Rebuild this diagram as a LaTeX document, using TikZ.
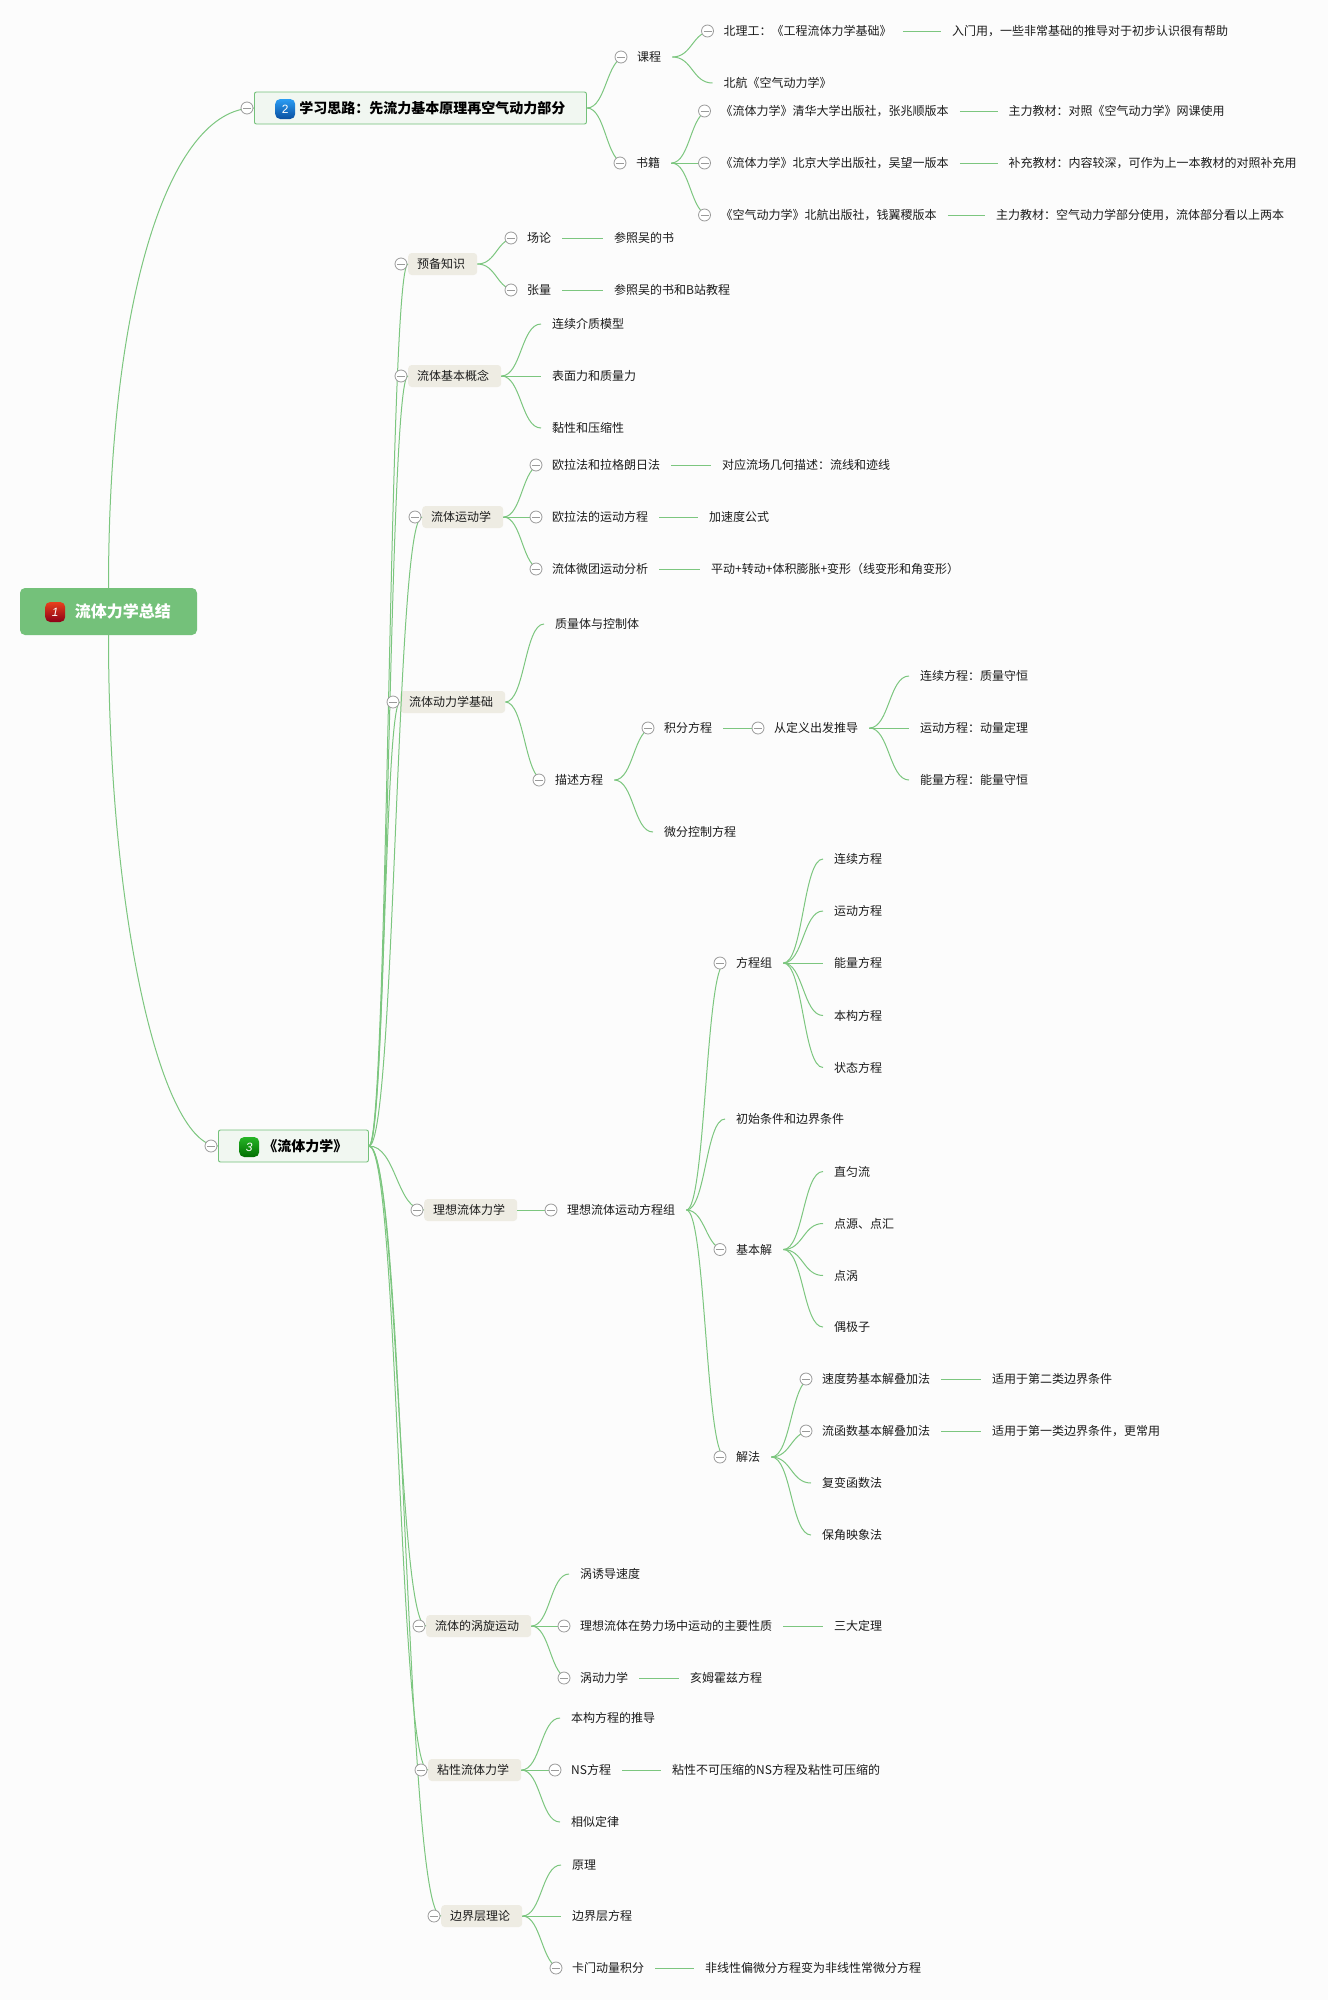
\documentclass[tikz,border=0pt]{standalone}
\usepackage{fontspec}
\setmainfont{Noto Sans CJK SC}
\newfontfamily\iconfont{Liberation Sans}
\usepackage{xcolor}
\usetikzlibrary{calc}
\definecolor{pagebg}{HTML}{FCFCFC}
\definecolor{linegreen}{HTML}{7CC67F}
\definecolor{rootgreen}{HTML}{74C17A}
\definecolor{mainfill}{HTML}{F1F7F1}
\definecolor{secfill}{HTML}{EEECE3}
\definecolor{foldgray}{HTML}{9A9A9A}
\definecolor{ink}{HTML}{1C1C1C}
\definecolor{redtop}{HTML}{E8401C}
\definecolor{redmid}{HTML}{E81010}
\definecolor{redlow}{HTML}{8C0018}
\definecolor{bluetop}{HTML}{2A9DF4}
\definecolor{bluemid}{HTML}{0A6FE8}
\definecolor{bluelow}{HTML}{0A4FA0}
\definecolor{greentop}{HTML}{26B526}
\definecolor{greenmid}{HTML}{009F00}
\definecolor{greenlow}{HTML}{006E00}
\tikzset{
  link/.style={draw=linegreen, line width=1pt},
  topic/.style={anchor=west, inner xsep=11pt, inner ysep=0pt, text=ink, text height=10.5pt, text depth=1.5pt,
    font=\fontsize{12}{14}\selectfont},
  secbox/.style={topic, fill=secfill, rounded corners=3.5pt, inner xsep=9pt, inner ysep=5pt,
    execute at end node={\hspace*{3pt}}},
  mainbox/.style={anchor=west, draw=rootgreen, fill=mainfill, rounded corners=2pt, line width=0.9pt, inner xsep=21pt,
    minimum height=32pt, text=black, font=\fontsize{14}{16}\selectfont\bfseries,
    execute at begin node={\hspace*{24pt}}},
  rootbox/.style={fill=rootgreen, rounded corners=5pt, inner xsep=25.5pt, minimum height=47pt, minimum width=177pt,
    text=white, font=\fontsize{16}{20}\selectfont\bfseries, execute at begin node={\hspace*{28.5pt}}},
  icon/.style={anchor=west, rounded corners=5pt, minimum size=20pt, inner sep=0pt, text=white,
    font=\iconfont\fontsize{12}{12}\selectfont},
  fold/.style={circle, draw=foldgray, fill=white, line width=0.8pt, minimum size=12pt, inner sep=0pt,
    path picture={\draw[foldgray, line width=0.8pt] ([xshift=2pt]path picture bounding box.west) -- ([xshift=-2pt]path picture bounding box.east);}},
}
\newcommand{\branch}[2]{%
  \path (#1.east) -- coordinate (m) (#2.west);
  \draw[link] (#1.east) .. controls (m |- #1.east) and (m |- #2.west) .. (#2.west);}
\begin{document}
\begin{tikzpicture}[x=1pt,y=-1pt]
  \path[use as bounding box, fill=pagebg] (0,0) rectangle (1328,2000);

  \node[rootbox] (root) at (108.5,611.5) {流体力学总结};
  \node[mainbox] (learn) at (254,108) {学习思路：先流力基本原理再空气动力部分};
  \node[mainbox] (fluid) at (218,1146) {《流体力学》};

  \node[icon, top color=redtop, middle color=redmid, bottom color=redlow] (iconone) at (45,612) {\itshape 1};
  \node[icon, top color=bluetop, middle color=bluemid, bottom color=bluelow] (icontwo) at (275,109) {2};
  \node[icon, top color=greentop, middle color=greenmid, bottom color=greenlow] (iconthree) at (239,1147) {\itshape 3};

  \node[topic] (course) at (626,57) {课程};
  \node[topic] (books) at (625,163) {书籍};
  \node[topic] (bit) at (712.5,31) {北理工：《工程流体力学基础》};
  \node[topic] (bitnote) at (941,31) {入门用，一些非常基础的推导对于初步认识很有帮助};
  \node[topic] (buaa) at (712.5,83) {北航《空气动力学》};
  \node[topic] (thu) at (709.5,111) {《流体力学》清华大学出版社，张兆顺版本};
  \node[topic] (thunote) at (997.5,111) {主力教材：对照《空气动力学》网课使用};
  \node[topic] (pku) at (709.5,163) {《流体力学》北京大学出版社，吴望一版本};
  \node[topic] (pkunote) at (997.5,163) {补充教材：内容较深，可作为上一本教材的对照补充用};
  \node[topic] (aero) at (709.5,215) {《空气动力学》北航出版社，钱翼稷版本};
  \node[topic] (aeronote) at (985,215) {主力教材：空气动力学部分使用，流体部分看以上两本};

  \node[secbox] (pre) at (408,264) {预备知识};
  \node[topic] (field) at (516,238) {场论};
  \node[topic] (fieldnote) at (603,238) {参照吴的书};
  \node[topic] (tensor) at (516,290) {张量};
  \node[topic] (tensornote) at (603,290) {参照吴的书和B站教程};

  \node[secbox] (basics) at (408,376) {流体基本概念};
  \node[topic] (medium) at (541,324) {连续介质模型};
  \node[topic] (force) at (541,376) {表面力和质量力};
  \node[topic] (visc) at (541,428) {黏性和压缩性};

  \node[secbox] (kinem) at (422,517) {流体运动学};
  \node[topic] (euler) at (541,465) {欧拉法和拉格朗日法};
  \node[topic] (eulernote) at (711,465) {对应流场几何描述：流线和迹线};
  \node[topic] (eulereq) at (541,517) {欧拉法的运动方程};
  \node[topic] (eulereqnote) at (698,517) {加速度公式};
  \node[topic] (micro) at (541,569) {流体微团运动分析};
  \node[topic] (micronote) at (700,569) {平动+转动+体积膨胀+变形（线变形和角变形）};

  \node[secbox] (dyn) at (400,702) {流体动力学基础};
  \node[topic] (ctrl) at (544,624) {质量体与控制体};
  \node[topic] (eqs) at (544,780) {描述方程};
  \node[topic] (integ) at (653,728) {积分方程};
  \node[topic] (diffeq) at (653,832) {微分控制方程};
  \node[topic] (defn) at (763,728) {从定义出发推导};
  \node[topic] (mass) at (909,676) {连续方程：质量守恒};
  \node[topic] (momentum) at (909,728) {运动方程：动量定理};
  \node[topic] (energy) at (909,780) {能量方程：能量守恒};

  \node[secbox] (ideal) at (424,1210) {理想流体力学};
  \node[topic] (idealeq) at (556,1210) {理想流体运动方程组};
  \node[topic] (system) at (725,963) {方程组};
  \node[topic] (syscont) at (823,859) {连续方程};
  \node[topic] (sysmove) at (823,911) {运动方程};
  \node[topic] (sysener) at (823,963) {能量方程};
  \node[topic] (sysconst) at (823,1015.5) {本构方程};
  \node[topic] (sysstate) at (823,1067.5) {状态方程};
  \node[topic] (initial) at (725,1119) {初始条件和边界条件};
  \node[topic] (basicsol) at (725,1249.5) {基本解};
  \node[topic] (uniform) at (823,1171.5) {直匀流};
  \node[topic] (source) at (823,1223.5) {点源、点汇};
  \node[topic] (pointvortex) at (823,1275.5) {点涡};
  \node[topic] (dipole) at (823,1327) {偶极子};
  \node[topic] (solve) at (725,1457) {解法};
  \node[topic] (potential) at (811,1379) {速度势基本解叠加法};
  \node[topic] (potnote) at (981,1379) {适用于第二类边界条件};
  \node[topic] (stream) at (811,1431) {流函数基本解叠加法};
  \node[topic] (streamnote) at (981,1431) {适用于第一类边界条件，更常用};
  \node[topic] (complex) at (811,1483) {复变函数法};
  \node[topic] (conformal) at (811,1535) {保角映象法};

  \node[secbox] (vortex) at (426,1626) {流体的涡旋运动};
  \node[topic] (induced) at (569,1574) {涡诱导速度};
  \node[topic] (nature) at (569,1626) {理想流体在势力场中运动的主要性质};
  \node[topic] (naturenote) at (823,1626) {三大定理};
  \node[topic] (vordyn) at (569,1678) {涡动力学};
  \node[topic] (vordynnote) at (679,1678) {亥姆霍兹方程};

  \node[secbox] (viscous) at (428,1770) {粘性流体力学};
  \node[topic] (derive) at (560,1718) {本构方程的推导};
  \node[topic] (ns) at (560,1770) {NS方程};
  \node[topic] (nsnote) at (661,1770) {粘性不可压缩的NS方程及粘性可压缩的};
  \node[topic] (similar) at (560,1822) {相似定律};

  \node[secbox] (layer) at (441,1916) {边界层理论};
  \node[topic] (principle) at (561,1865) {原理};
  \node[topic] (layereq) at (561,1916) {边界层方程};
  \node[topic] (karman) at (561,1968) {卡门动量积分};
  \node[topic] (karmannote) at (694,1968) {非线性偏微分方程变为非线性常微分方程};

  \draw[link] (root.north) .. controls +(0,-290) and +(-85,0) .. (learn.west);
  \draw[link] (root.south) .. controls +(0,290) and +(-55,0) .. (fluid.west);

  \foreach \a/\b in {learn/course,learn/books,course/bit,course/buaa,bit/bitnote,books/thu,books/pku,books/aero,
    thu/thunote,pku/pkunote,aero/aeronote,
    fluid/pre,fluid/basics,fluid/kinem,fluid/dyn,fluid/ideal,fluid/vortex,fluid/viscous,fluid/layer,
    pre/field,pre/tensor,field/fieldnote,tensor/tensornote,
    basics/medium,basics/force,basics/visc,
    kinem/euler,kinem/eulereq,kinem/micro,euler/eulernote,eulereq/eulereqnote,micro/micronote,
    dyn/ctrl,dyn/eqs,eqs/integ,eqs/diffeq,integ/defn,defn/mass,defn/momentum,defn/energy,
    ideal/idealeq,idealeq/system,idealeq/initial,idealeq/basicsol,idealeq/solve,
    system/syscont,system/sysmove,system/sysener,system/sysconst,system/sysstate,
    basicsol/uniform,basicsol/source,basicsol/pointvortex,basicsol/dipole,
    solve/potential,solve/stream,solve/complex,solve/conformal,potential/potnote,stream/streamnote,
    vortex/induced,vortex/nature,vortex/vordyn,nature/naturenote,vordyn/vordynnote,
    viscous/derive,viscous/ns,viscous/similar,ns/nsnote,
    layer/principle,layer/layereq,layer/karman,karman/karmannote}
    {\branch{\a}{\b}}

  \foreach \n in {learn,fluid,pre,basics,kinem,dyn,ideal,vortex,viscous,layer}
    \node[fold] (f\n) at ([xshift=-7pt]\n.west) {};
  \foreach \n in {course,books,bit,thu,pku,aero,field,tensor,euler,eulereq,micro,eqs,integ,defn,idealeq,
    system,basicsol,solve,potential,stream,nature,vordyn,ns,karman}
    \node[fold] (f\n) at ([xshift=-5pt]\n.west) {};
\end{tikzpicture}
\end{document}
